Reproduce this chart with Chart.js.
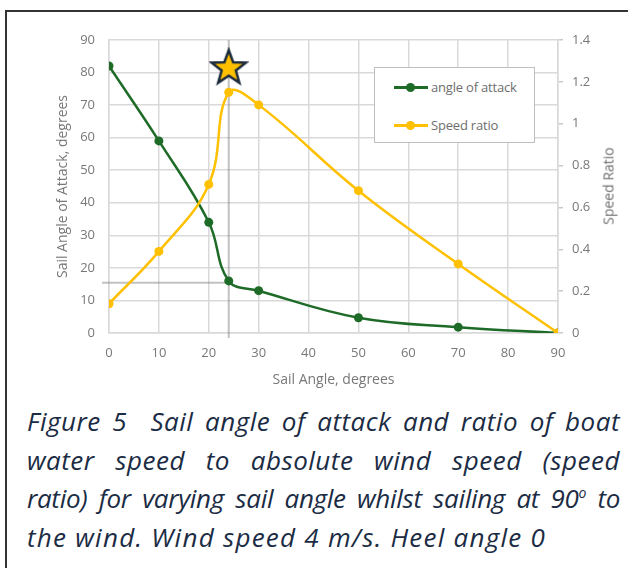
<!DOCTYPE html>
<html>
<head>
<meta charset="utf-8">
<script src="https://cdn.jsdelivr.net/npm/chart.js@4.4.1/dist/chart.umd.min.js"></script>
<style>
  body { margin: 0; background: #fff; width: 628px; height: 568px; overflow: hidden; position: relative; font-family: "Open Sans", sans-serif; }
  #frame { position: absolute; left: 5px; top: 10px; width: 700px; height: 700px; border: 2px solid #333; }
  #wrap { position: absolute; left: 0; top: 0; width: 628px; height: 395px; }
  #legend { position: absolute; left: 374px; top: 67px; width: 161px; height: 76px; border: 1.5px solid #bfbfbf; background: #fff; box-sizing: border-box; }
  .item { position: absolute; left: 19px; height: 16px; font-size: 13px; color: #6e6e6e; line-height: 16px; white-space: nowrap; }
  .item .sw { position: absolute; left: 0; top: 7px; width: 34px; height: 3px; }
  .item .dot { position: absolute; left: 12px; top: 4px; width: 9px; height: 9px; border-radius: 50%; }
  .item span.t { position: absolute; left: 37px; top: 0; letter-spacing: -0.2px; }
  #rtitle { position: absolute; left: 608px; top: 186px; transform: translate(-50%, -50%) rotate(-90deg); font-size: 14px; color: #6e6e6e; white-space: nowrap; }
  #caption { position: absolute; left: 27px; top: 402px; width: 593px; font-family: "Open Sans", sans-serif; font-style: italic; font-size: 26px; color: #1b2c44; letter-spacing: 0.5px; }
  #caption div { height: 38.5px; line-height: 38.5px; text-align: justify; text-align-last: justify; white-space: nowrap; }
  #caption div.last { text-align-last: left; letter-spacing: 1.25px; }
  sup { font-size: 14px; vertical-align: 10px; line-height: 0; }
</style>
</head>
<body>
<div id="frame"></div>
<div id="wrap"><canvas id="myChart" width="628" height="395"></canvas></div>
<div id="legend"></div>
<div id="rtitle">Speed Ratio</div>
<div id="caption">
  <div>Figure 5&nbsp; Sail angle of attack and ratio of boat</div>
  <div>water speed to absolute wind speed (speed</div>
  <div style="letter-spacing:-0.3px;word-spacing:-3px">ratio) for varying sail angle whilst sailing at 90<sup>o</sup> to</div>
  <div class="last">the wind. Wind speed 4 m/s. Heel angle 0</div>
</div>
<script>
// Sail angles (degrees)
const sailAngles = [0, 10, 20, 24, 30, 50, 70, 90];
// Angle of attack values (left axis)
const angleOfAttack = [82, 59, 34, 16, 13, 4.7, 1.8, 0];
// Speed ratio values (right axis)
const speedRatio = [0.14, 0.39, 0.71, 1.15, 1.09, 0.68, 0.33, 0];
// Marker for the best speed ratio
const bestAngle = 24;
const bestStar = 1.27;
// Tick labels
const rightTicks = ["0", "0.2", "0.4", "0.6", "0.8", "1", "1.2", "1.4"];

const green = "#1e6b28";
const gold = "#ffc000";
const tickColor = "#787878";
const gridColor = "#d9d9d9";
const tickFont = { family: "Open Sans", size: 13 };

// Function to make a filled star image for the marker
function makeStar() {
    const c = document.createElement("canvas");
    c.width = 40; c.height = 40;
    const ctx = c.getContext("2d");
    ctx.beginPath();
    for (let i = 0; i < 10; i++) {
        const r = i % 2 === 0 ? 18 : 7.5;
        const a = -Math.PI / 2 + i * Math.PI / 5;
        ctx.lineTo(20 + r * Math.cos(a), 21 + r * Math.sin(a));
    }
    ctx.closePath();
    ctx.fillStyle = gold;
    ctx.fill();
    ctx.lineWidth = 2.5;
    ctx.strokeStyle = "#1b2a3d";
    ctx.stroke();
    return c;
}

const toPoints = (ys) => sailAngles.map((x, i) => ({ x: x, y: ys[i] }));

new Chart("myChart", {
    type: "line",
    data: {
        datasets: [{
            label: "angle of attack",
            data: toPoints(angleOfAttack),
            yAxisID: "y",
            borderColor: green,
            backgroundColor: green,
            borderWidth: 2.5,
            pointRadius: 4.5,
            pointBackgroundColor: green,
            pointBorderWidth: 0,
            tension: 0.4,
            fill: false,
            order: 2
        }, {
            label: "Speed ratio",
            data: toPoints(speedRatio),
            yAxisID: "y1",
            borderColor: gold,
            backgroundColor: gold,
            borderWidth: 2.5,
            pointRadius: 4.5,
            pointBackgroundColor: gold,
            pointBorderWidth: 0,
            tension: 0.4,
            fill: false,
            order: 1
        }, {
            label: "vline",
            data: [{ x: bestAngle, y: 90 }, { x: bestAngle, y: -1.5 }],
            yAxisID: "y",
            borderColor: "rgba(120,120,120,0.45)",
            borderWidth: 2,
            pointRadius: 0,
            clip: false,
            order: 5
        }, {
            label: "hline",
            data: [{ x: -1.4, y: angleOfAttack[3] - 0.6 }, { x: bestAngle, y: angleOfAttack[3] - 0.6 }],
            yAxisID: "y",
            borderColor: "rgba(120,120,120,0.45)",
            borderWidth: 2,
            pointRadius: 0,
            clip: false,
            order: 5
        }, {
            label: "star",
            data: [{ x: bestAngle, y: bestStar }],
            yAxisID: "y1",
            showLine: false,
            pointStyle: makeStar(),
            pointRadius: 18,
            clip: false,
            order: 0
        }]
    },
    options: {
        responsive: false,
        animation: false,
        layout: { padding: { top: 40 } },
        scales: {
            x: {
                type: "linear",
                min: 0,
                max: 90,
                ticks: { stepSize: 10, color: tickColor, font: tickFont, padding: 12 },
                grid: { color: gridColor, lineWidth: 1.5, drawTicks: false },
                border: { color: gridColor, width: 1.5 },
                title: { display: true, text: "Sail Angle, degrees", color: tickColor, font: { family: "Open Sans", size: 14 }, padding: { bottom: 7 } },
                afterFit: (s) => { s.height = 62; }
            },
            y: {
                position: "left",
                min: 0,
                max: 90,
                ticks: { stepSize: 10, color: tickColor, font: tickFont, padding: 14 },
                grid: { color: gridColor, lineWidth: 1.5, drawTicks: false },
                border: { color: gridColor, width: 1.5 },
                title: { display: true, text: "Sail Angle of Attack, degrees", color: tickColor, font: { family: "Open Sans", size: 14 }, padding: { top: 55 } },
                afterFit: (s) => { s.width = 109; }
            },
            y1: {
                position: "right",
                min: 0,
                max: 1.4,
                ticks: {
                    stepSize: 0.2,
                    color: tickColor,
                    font: tickFont,
                    padding: 9,
                    callback: (v) => rightTicks[Math.round(v / 0.2)]
                },
                grid: { drawOnChartArea: false, color: "#c8c8c8", tickLength: 5, lineWidth: 1.5 },
                border: { color: gridColor, width: 1.5 },
                afterFit: (s) => { s.width = 70; }
            }
        },
        plugins: {
            legend: { display: false },
            tooltip: { enabled: false }
        }
    }
});

// HTML legend built from the two series
const legend = document.getElementById("legend");
[["angle of attack", green, 11], ["Speed ratio", gold, 49]].forEach(([name, col, top]) => {
    const d = document.createElement("div");
    d.className = "item";
    d.style.top = top + "px";
    d.innerHTML = '<div class="sw" style="background:' + col + '"></div><div class="dot" style="background:' + col + '"></div><span class="t">' + name + '</span>';
    legend.appendChild(d);
});
</script>
</body>
</html>
